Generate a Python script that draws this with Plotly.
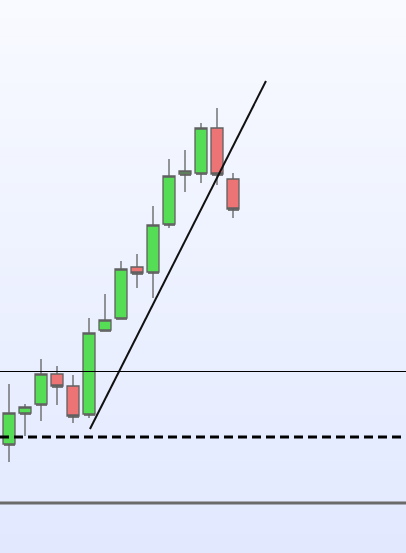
import plotly.graph_objects as go

# ---- data (price units) ----
idx = list(range(15))
opens  = [10.9, 14.0, 14.9, 17.9, 16.7, 13.9, 22.3, 23.5, 28.6, 28.1, 32.9, 37.9, 38.0, 42.5, 37.4]
highs  = [16.9, 14.9, 19.4, 18.7, 17.8, 23.5, 25.9, 29.2, 29.9, 34.7, 39.4, 40.3, 43.0, 44.5, 38.0]
lows   = [9.1, 11.7, 13.2, 14.8, 13.0, 13.5, 22.3, 23.5, 26.5, 25.5, 32.5, 36.1, 37.0, 36.8, 33.5]
closes = [14.0, 14.6, 17.9, 16.7, 13.7, 22.0, 23.3, 28.4, 28.0, 32.8, 37.7, 38.2, 42.5, 37.9, 34.4]

trend_x = [5.06, 16.06]
trend_y = [12.4, 47.2]

level_thin = 18.15
level_dashed = 11.6
level_gray = 5.0

x_range = [-0.5625, 24.8125]
y_range = [0, 55.3]

fig = go.Figure()

# shadow boxes
base = [min(o, c) for o, c in zip(opens, closes)]
hgt = [max(abs(c - o), 0.15) for o, c in zip(opens, closes)]
fig.add_trace(go.Bar(x=idx, y=hgt, base=[b - 0.15 for b in base], width=0.72, offset=-0.33,
                     marker=dict(color="#7a7a7a", line=dict(width=0)), hoverinfo="skip",
                     showlegend=False))

fig.add_trace(go.Candlestick(
    x=idx, open=opens, high=highs, low=lows, close=closes,
    increasing=dict(fillcolor="#55dd55", line=dict(color="#606060", width=1.3)),
    decreasing=dict(fillcolor="#ec7474", line=dict(color="#606060", width=1.3)),
    whiskerwidth=0, showlegend=False,
))

fig.add_trace(go.Scatter(x=trend_x, y=trend_y, mode="lines",
                         line=dict(color="#111111", width=2), showlegend=False, hoverinfo="skip"))

fig.add_hline(y=level_thin, line=dict(color="#000000", width=1))
fig.add_hline(y=level_dashed, line=dict(color="#000000", width=3, dash="9px,5px"))
fig.add_hline(y=level_gray, line=dict(color="#6a6a6a", width=3))

# gradient background bands
n = 60
top = (248, 250, 255)
bot = (226, 233, 255)
for i in range(n):
    t = i / (n - 1)
    col = tuple(round(top[k] + (bot[k] - top[k]) * t) for k in range(3))
    fig.add_shape(type="rect", xref="paper", yref="paper", x0=0, x1=1,
                  y0=1 - (i + 1) / n, y1=1 - i / n + 0.001, layer="below",
                  line=dict(width=0), fillcolor="rgb(%d,%d,%d)" % col)

fig.update_layout(
    width=406, height=553, margin=dict(l=0, r=0, t=0, b=0, pad=0),
    paper_bgcolor="#e9eeff", plot_bgcolor="rgba(0,0,0,0)",
    boxgap=0.25, boxgroupgap=0, bargap=0,
    xaxis=dict(range=x_range, visible=False, rangeslider=dict(visible=False), fixedrange=True),
    yaxis=dict(range=y_range, visible=False, fixedrange=True),
    showlegend=False,
)

fig.write_html("out.html", config={"displayModeBar": False},
               post_script="document.body.style.margin='0';document.body.style.overflow='hidden';")
